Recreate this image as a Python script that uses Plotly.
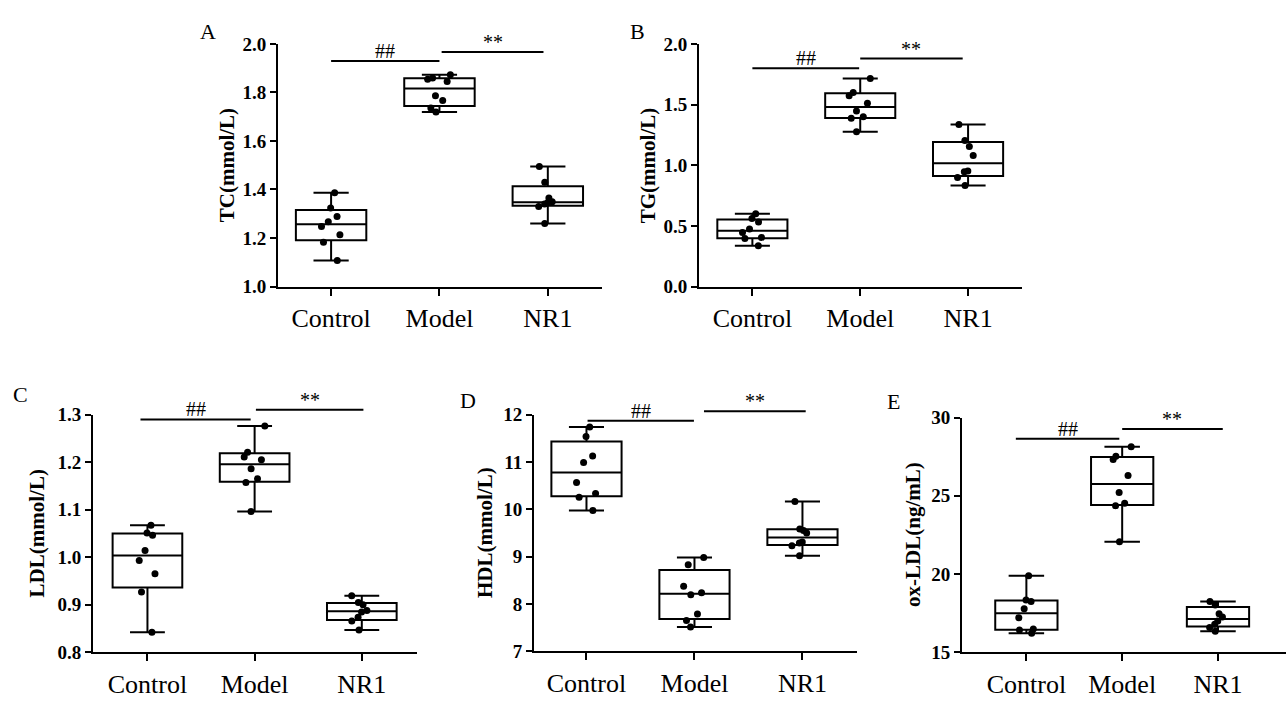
import numpy as np
import plotly.graph_objects as go

groups = ["Control", "Model", "NR1"]

tc_control = [1.387, 1.324, 1.289, 1.267, 1.247, 1.213, 1.183, 1.107]
tc_model = [1.873, 1.845, 1.86, 1.855, 1.787, 1.767, 1.736, 1.72]
tc_nr1 = [1.495, 1.43, 1.365, 1.35, 1.345, 1.34, 1.33, 1.26]

tg_control = [0.6, 0.56, 0.533, 0.475, 0.445, 0.405, 0.395, 0.337]
tg_model = [1.715, 1.6, 1.573, 1.512, 1.448, 1.4, 1.387, 1.277]
tg_nr1 = [1.336, 1.205, 1.155, 1.08, 0.952, 0.947, 0.899, 0.832]

ldl_control = [1.067, 1.051, 1.046, 1.014, 0.993, 0.965, 0.927, 0.842]
ldl_model = [1.276, 1.221, 1.211, 1.205, 1.186, 1.165, 1.157, 1.096]
ldl_nr1 = [0.919, 0.905, 0.9, 0.888, 0.885, 0.874, 0.866, 0.847]

hdl_control = [11.74, 11.535, 11.124, 10.988, 10.564, 10.331, 10.256, 9.975]
hdl_model = [8.98, 8.83, 8.375, 8.238, 8.197, 7.787, 7.65, 7.513]
hdl_nr1 = [10.167, 9.585, 9.551, 9.497, 9.31, 9.29, 9.23, 9.018]

oxldl_control = [19.89, 18.34, 18.24, 17.79, 17.21, 16.49, 16.42, 16.22]
oxldl_model = [28.14, 27.52, 27.32, 26.29, 25.21, 24.53, 24.37, 22.06]
oxldl_nr1 = [18.24, 18.03, 17.46, 17.25, 17.0, 16.8, 16.59, 16.34]

W, H = 1286, 706
SERIF = "Liberation Serif, Times New Roman, serif"

panels = [
    dict(letter="A", title="TC(mmol/L)", data=[tc_control, tc_model, tc_nr1],
         px=(278, 602), py=(35, 285), yr=(1.0, 2.0), dtick=0.2, fmt=".1f",
         xr=(-0.49, 2.5), ww=0.5, letter_xy=(208, 22), title_x=227,
         sig=[(0.0, 1.0, 1.93, "##"), (1.02, 1.96, 1.967, "**")]),
    dict(letter="B", title="TG(mmol/L)", data=[tg_control, tg_model, tg_nr1],
         px=(699, 1022), py=(35, 285), yr=(0.0, 2.0), dtick=0.5, fmt=".1f",
         xr=(-0.495, 2.5), ww=0.5, letter_xy=(637, 22), title_x=648,
         sig=[(0.0, 0.99, 1.80, "##"), (1.0, 1.95, 1.88, "**")]),
    dict(letter="C", title="LDL(mmol/L)", data=[ldl_control, ldl_model, ldl_nr1],
         px=(93, 417), py=(417, 662), yr=(0.8, 1.3), dtick=0.1, fmt=".1f",
         xr=(-0.508, 2.515), ww=0.5, letter_xy=(20, 396), title_x=37,
         sig=[(-0.065, 0.963, 1.2898, "##"), (1.012, 2.015, 1.310, "**")]),
    dict(letter="D", title="HDL(mmol/L)", data=[hdl_control, hdl_model, hdl_nr1],
         px=(534, 857), py=(417, 661), yr=(7, 12), dtick=1, fmt="d",
         xr=(-0.486, 2.505), ww=0.5, letter_xy=(468, 402), title_x=485,
         sig=[(0.01, 0.995, 11.87, "##"), (1.088, 2.03, 12.07, "**")]),
    dict(letter="E", title="ox-LDL(ng/mL)", data=[oxldl_control, oxldl_model, oxldl_nr1],
         px=(962, 1290), py=(420, 662), yr=(15, 30), dtick=5, fmt="d",
         xr=(-0.672, 2.71), ww=0.57, letter_xy=(893, 403), title_x=913,
         sig=[(-0.11, 0.97, 28.65, "##"), (1.0, 2.05, 29.27, "**")]),
]

fig = go.Figure()
annotations = []
shapes = []

for i, p in enumerate(panels, start=1):
    xa = "x" if i == 1 else f"x{i}"
    ya = "y" if i == 1 else f"y{i}"
    xd = [p["px"][0] / W, min(p["px"][1] / W, 1.0)]
    yd = [1 - p["py"][1] / H, 1 - p["py"][0] / H]

    stats = [np.percentile(v, [25, 50, 75], method="weibull") for v in p["data"]]
    fig.add_trace(go.Box(
        x=groups,
        q1=[s[0] for s in stats], median=[s[1] for s in stats], q3=[s[2] for s in stats],
        lowerfence=[min(v) for v in p["data"]], upperfence=[max(v) for v in p["data"]],
        boxpoints=False, width=0.65, whiskerwidth=p["ww"],
        fillcolor="rgba(255,255,255,0)", line=dict(color="black", width=2),
        xaxis=xa, yaxis=ya, showlegend=False, hoverinfo="skip",
    ))
    xs, ys = [], []
    for g, v in zip(groups, p["data"]):
        xs += [g] * len(v)
        ys += list(v)
    fig.add_trace(go.Box(
        x=xs, y=ys, boxpoints="all", jitter=0.35, pointpos=0, width=0.65,
        fillcolor="rgba(0,0,0,0)", line=dict(color="rgba(0,0,0,0)", width=0),
        marker=dict(color="black", size=7), whiskerwidth=0,
        xaxis=xa, yaxis=ya, showlegend=False, hoverinfo="skip",
    ))

    axis_common = dict(showline=True, linecolor="black", linewidth=2,
                       ticks="outside", tickcolor="black", tickwidth=2,
                       showgrid=False, zeroline=False)
    fig.update_layout(**{
        ("xaxis" if i == 1 else f"xaxis{i}"): dict(
            domain=xd, anchor=ya, range=list(p["xr"]), type="category",
            categoryorder="array", categoryarray=groups, ticklen=7,
            tickfont=dict(family=SERIF, size=26, color="black"), **axis_common),
        ("yaxis" if i == 1 else f"yaxis{i}"): dict(
            domain=yd, anchor=xa, range=list(p["yr"]), dtick=p["dtick"], tick0=p["yr"][0],
            tickformat=p["fmt"], ticklen=6,
            tickfont=dict(family=SERIF, size=19, color="black", weight="bold"), **axis_common),
    })

    r0, r1 = p["yr"]
    for (x0, x1, yv, txt) in p["sig"]:
        yf = (yv - r0) / (r1 - r0)
        shapes.append(dict(type="line", xref=xa, yref=f"{ya} domain", x0=x0, x1=x1,
                           y0=yf, y1=yf, line=dict(color="black", width=2)))
        annotations.append(dict(xref=xa, yref=f"{ya} domain", x=(x0 + x1) / 2, y=yf,
                                text=txt, showarrow=False, yanchor="bottom", yshift=-3,
                                font=dict(family=SERIF, size=20, color="black")))

    annotations.append(dict(xref="paper", yref="paper", x=p["letter_xy"][0] / W,
                            y=1 - p["letter_xy"][1] / H, text=p["letter"], showarrow=False,
                            xanchor="center", yanchor="middle",
                            font=dict(family=SERIF, size=22, color="black")))
    annotations.append(dict(xref="paper", yref="paper", x=p["title_x"] / W,
                            y=1 - (p["py"][0] + p["py"][1]) / 2 / H,
                            text=f"<b>{p['title']}</b>", showarrow=False, textangle=-90,
                            xanchor="center", yanchor="middle",
                            font=dict(family=SERIF, size=21, color="black")))

fig.update_layout(
    width=W, height=H, margin=dict(l=0, r=0, t=0, b=0),
    font=dict(family=SERIF, color="black"),
    paper_bgcolor="white", plot_bgcolor="white", boxmode="overlay",
    annotations=annotations, shapes=shapes, showlegend=False,
)

fig.write_html("out.html", config={"displayModeBar": False, "staticPlot": True},
               post_script="document.body.style.margin='0';document.body.style.overflow='hidden';")
